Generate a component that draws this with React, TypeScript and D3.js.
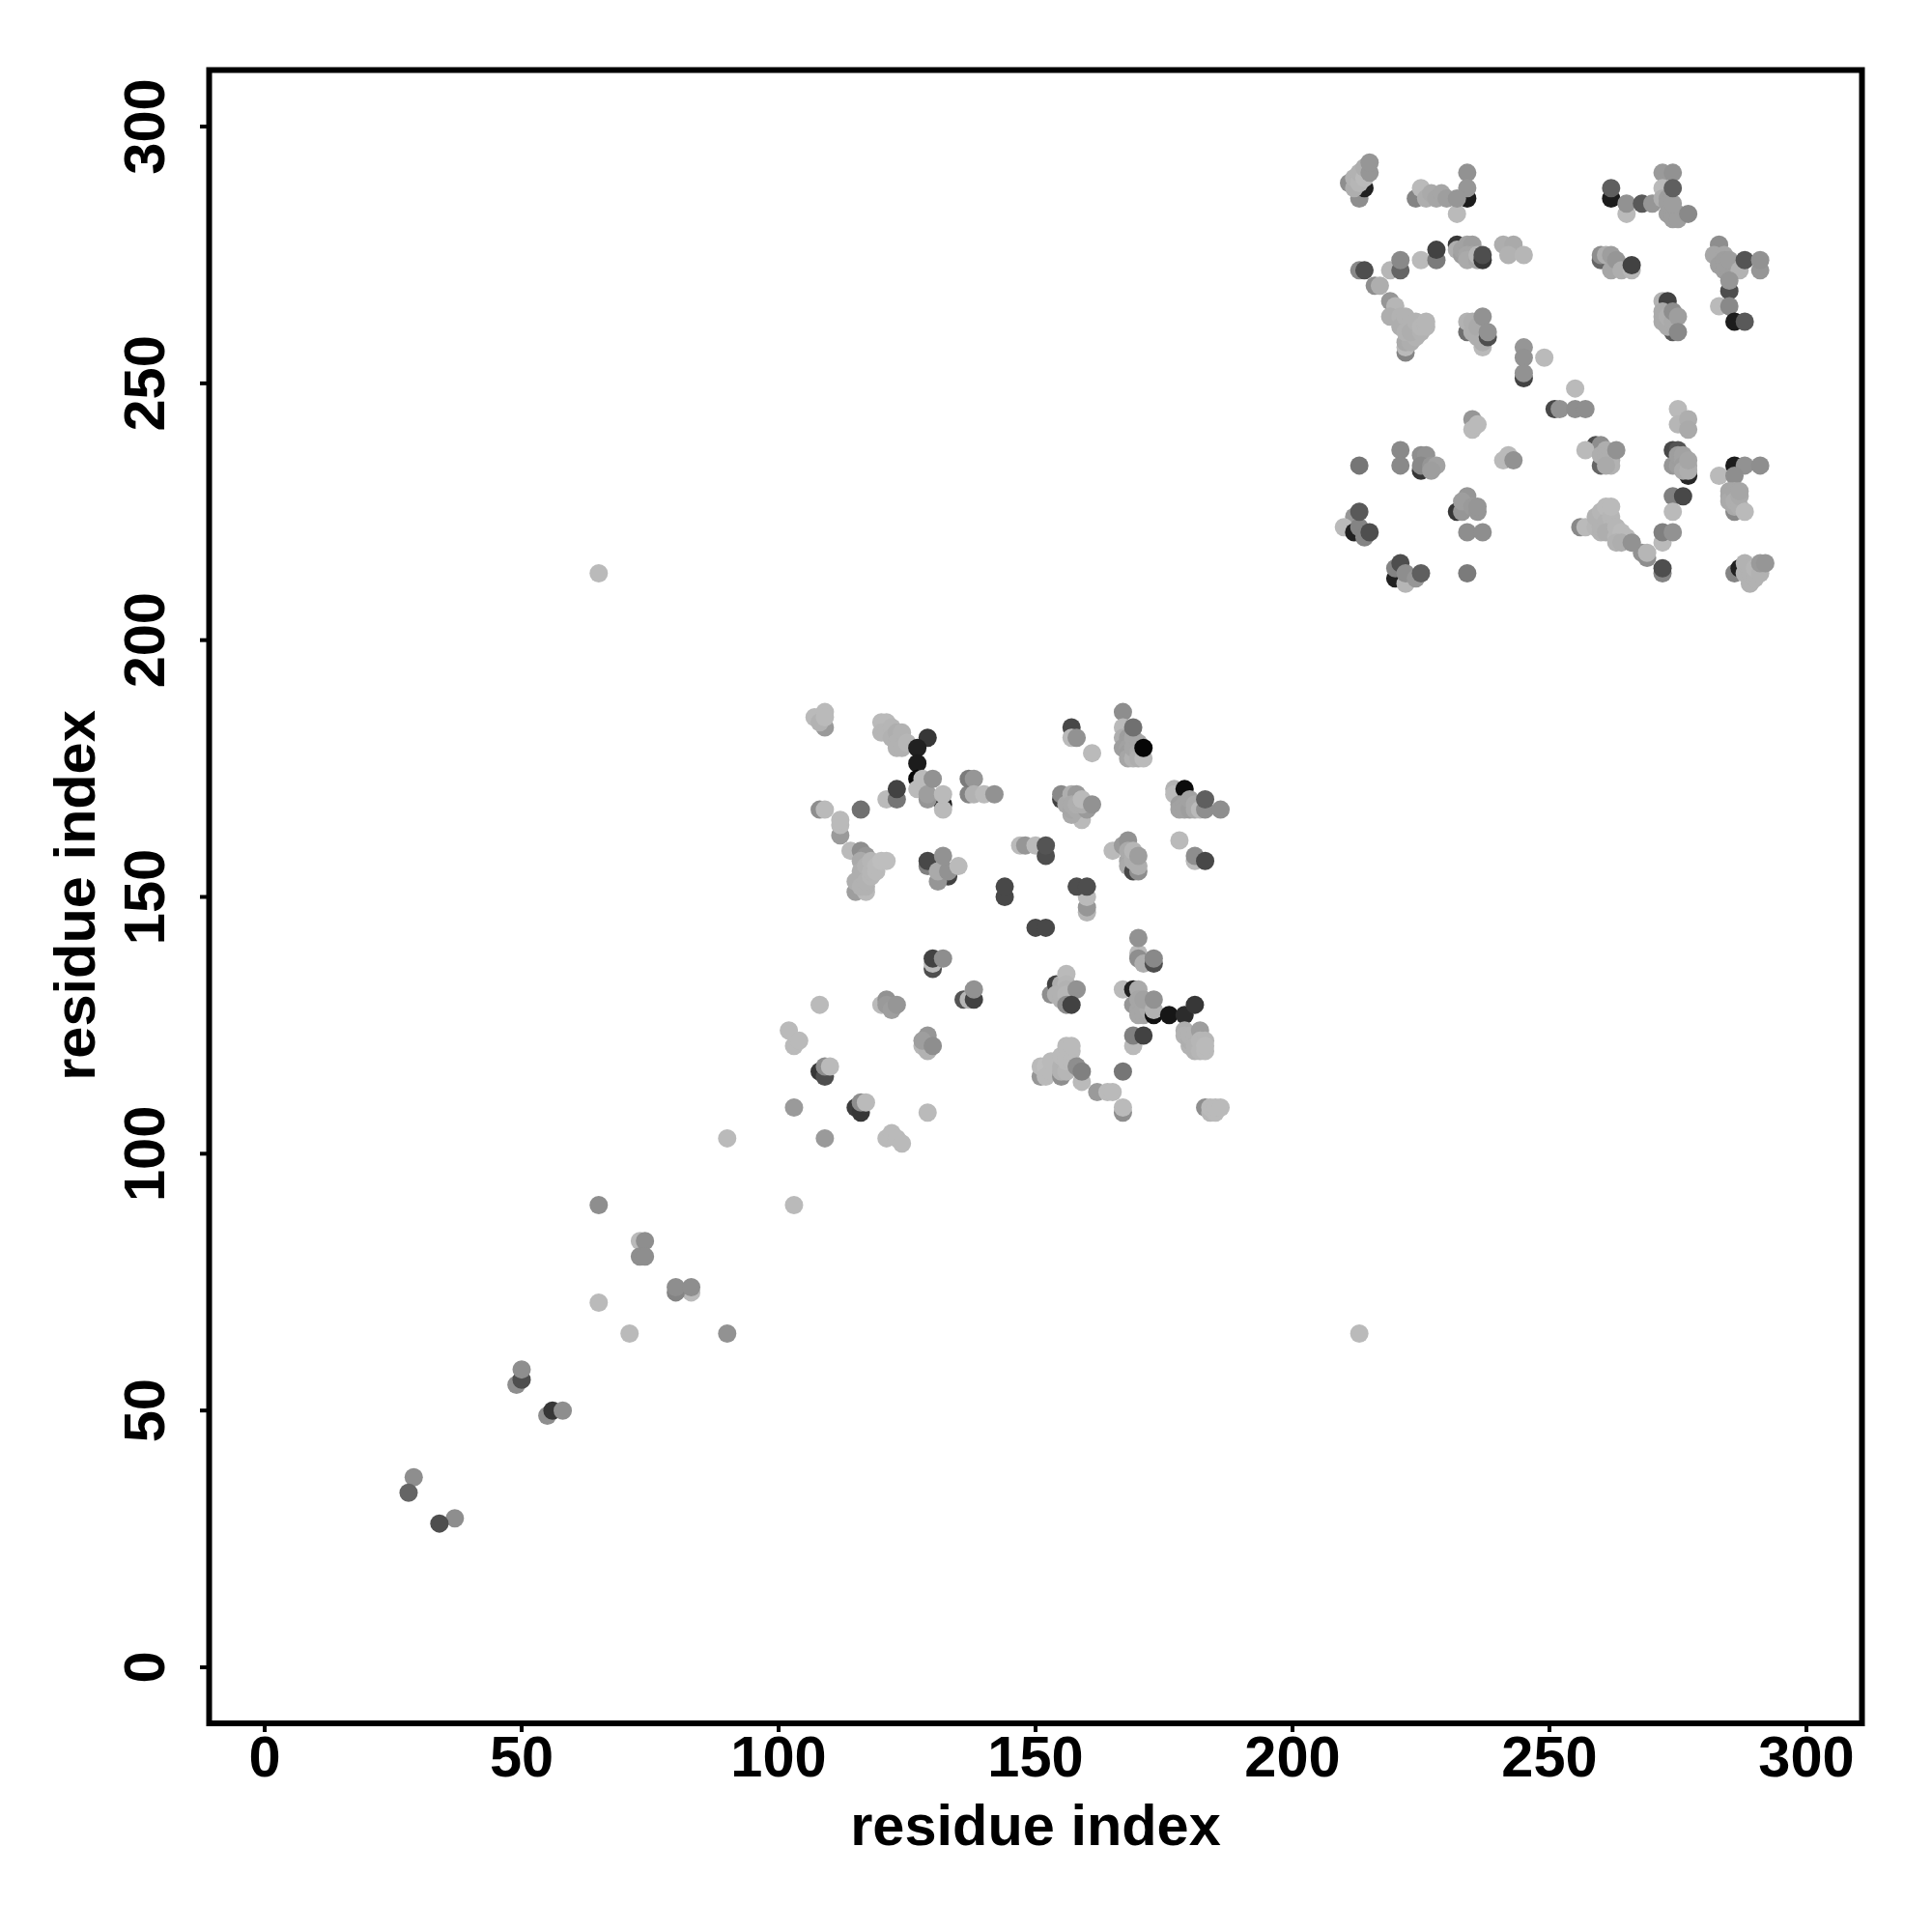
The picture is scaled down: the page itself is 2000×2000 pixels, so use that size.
import React from "react";
import * as d3 from "d3";

type P = [number, number, number];

const xTicks = [0, 50, 100, 150, 200, 250, 300];
const yTicks = [0, 50, 100, 150, 200, 250, 300];
const axisLabel = "residue index";

const topA: P[] = [[211,289,130],[213,286,130],[214,288,30],[212,288,170],[212,290,175],[213,289,180],[213,291,175],[214,290,185],[214,292,170],[215,291,140],[215,293,140]];
const topB: P[] = [[234,291,135],[234,286,25],[234,288,140],[224,286,120],[225,288,185],[226,286,170],[227,287,165],[228,286,160],[229,287,160],[230,286,150],[232,283,185],[232,286,140]];
const topC: P[] = [[262,286,25],[262,288,85],[265,283,185],[265,285,135],[268,285,80],[270,285,140],[272,291,145],[272,288,185],[272,286,170],[273,286,150],[273,285,150],[273,283,150],[274,283,150],[274,282,150],[275,283,150],[275,282,150],[274,285,150],[274,291,135],[274,288,85],[277,283,125]];
const rowA: P[] = [[213,272,125],[214,272,70],[219,272,180],[221,272,90],[221,274,125],[225,274,185],[228,274,110],[228,276,60],[232,277,50],[232,276,170],[233,275,150],[233,276,155],[234,277,155],[235,277,150],[234,275,160],[235,275,160],[234,274,165],[236,274,160],[236,275,180],[237,274,50],[237,275,70],[241,277,170],[243,277,165],[242,275,175],[245,275,180]];
const rowB: P[] = [[260,274,90],[260,275,130],[261,275,170],[262,272,160],[262,275,150],[263,274,140],[264,272,170],[266,272,180],[266,273,60]];
const rowC: P[] = [[283,277,130],[282,275,160],[284,275,160],[283,273,150],[284,274,150],[284,272,150],[285,272,150],[285,274,150],[287,272,175],[288,274,75],[291,272,140],[291,274,135],[285,268,70],[285,270,140],[283,265,185],[285,265,125],[286,262,25],[288,262,80]];
const rowD: P[] = [[272,266,175],[273,266,60],[274,260,80],[272,262,165],[272,263,165],[272,264,165],[273,261,165],[273,263,170],[274,262,165],[274,264,130],[275,263,150],[275,260,125]];
const midA: P[] = [[216,269,130],[217,269,170],[219,266,140],[220,265,180],[219,263,170],[222,256,120],[222,257,185],[222,258,165],[223,258,170],[224,259,175],[221,263,175],[221,261,170],[222,263,175],[222,260,175],[223,262,175],[223,260,170],[225,260,175],[224,262,175],[225,261,180],[226,261,180],[226,262,180]];
const midB: P[] = [[234,260,100],[234,262,175],[235,260,170],[235,262,170],[236,259,170],[236,261,165],[237,257,185],[237,258,170],[237,263,135],[238,259,70],[238,260,135]];
const diagA: P[] = [[245,257,140],[245,255,135],[249,255,185],[245,251,60],[245,252,135],[255,249,185],[251,245,65],[252,245,135],[255,245,130],[257,245,130]];
const midC: P[] = [[235,243,140],[235,241,185],[236,242,185],[275,245,185],[275,242,180],[277,243,170],[277,241,165]];
const lowA: P[] = [[213,234,105],[221,237,125],[221,234,125],[225,233,50],[225,236,130],[226,236,135],[225,234,125],[227,234,140],[228,234,155],[227,233,150]];
const lowB: P[] = [[241,235,185],[242,236,185],[243,235,135]];
const lowC: P[] = [[259,238,70],[260,238,130],[257,237,185],[260,234,90],[260,236,170],[261,237,170],[261,236,170],[261,235,170],[262,235,170],[262,236,170],[262,234,175],[261,234,165],[263,237,135]];
const lowD: P[] = [[274,237,65],[275,237,75],[274,234,140],[277,232,35],[275,234,150],[275,236,150],[276,235,155],[276,236,155],[276,234,150],[276,233,165],[277,234,165],[277,233,170],[277,235,160]];
const lowE: P[] = [[286,234,25],[288,234,135],[291,234,130],[283,232,185],[286,232,130],[286,225,125],[285,229,160],[285,228,160],[285,227,165],[286,229,160],[286,226,165],[286,227,170],[287,226,170],[287,228,165],[287,229,160],[288,225,185]];
const lowF: P[] = [[274,228,115],[276,228,65],[274,225,185],[272,219,185],[272,221,115],[274,221,135],[272,213,120],[272,214,70]];
const lowG: P[] = [[268,217,135],[269,216,130],[269,217,180],[266,219,135],[256,222,125],[257,222,185],[259,222,180],[259,224,175],[260,221,175],[260,222,175],[260,223,175],[260,225,180],[261,223,175],[261,226,185],[262,224,180],[262,222,180],[262,226,185],[261,221,170],[263,222,180],[263,220,180],[264,221,185],[265,220,185],[263,219,175],[264,219,170],[266,219,135]];
const lowH: P[] = [[212,224,140],[210,222,185],[212,221,30],[213,222,120],[214,220,120],[213,225,80],[215,221,70]];
const lowI: P[] = [[232,225,50],[233,225,140],[234,228,140],[233,227,150],[235,226,145],[236,225,140],[236,226,140],[234,221,130],[237,221,130],[234,213,110]];
const lowJ: P[] = [[220,212,30],[222,211,180],[220,214,120],[221,215,70],[222,213,130],[224,212,140],[225,213,85]];
const lowK: P[] = [[286,213,120],[287,214,30],[289,212,140],[289,211,175],[288,213,175],[288,215,175],[289,213,175],[289,214,175],[290,212,175],[290,213,175],[290,214,180],[291,213,175],[291,215,145],[292,215,140]];

const blockA: P[] = [[109,183,145],[107,185,185],[108,184,175],[109,186,185],[109,185,185],[120,184,185],[121,184,185],[120,182,180],[121,182,180],[122,183,180],[122,181,175],[123,182,170],[124,182,175],[124,181,175],[123,180,175],[123,179,175],[124,179,175],[125,180,180],[129,181,50],[127,179,30],[127,176,25],[127,173,5],[127,171,185],[128,173,185],[132,168,30],[132,167,185],[129,169,140],[129,170,150],[130,173,135],[132,170,185]];
const blockB: P[] = [[121,169,185],[123,169,105],[123,171,60],[137,170,120],[137,173,110],[138,173,140],[138,170,175],[140,170,185],[142,170,135],[108,167,130],[109,167,185],[116,167,100],[112,162,145],[112,164,185],[112,165,185]];
const blockC: P[] = [[114,159,185],[116,154,145],[115,151,150],[117,151,185],[116,159,130],[117,158,140],[116,157,165],[116,155,170],[115,153,170],[116,152,175],[117,152,175],[117,153,175],[117,156,175],[118,154,180],[118,155,180],[118,157,180],[119,155,185],[119,156,185],[120,157,190],[121,157,190]];
const blockD: P[] = [[129,156,115],[129,157,65],[133,154,60],[131,153,140],[131,155,165],[133,155,135],[132,158,135],[135,156,185]];
const blockE: P[] = [[147,160,185],[148,160,140],[150,160,185],[152,158,70],[152,160,75],[144,150,65],[144,152,65],[160,147,180],[160,148,140],[160,150,185],[158,152,70],[160,152,70],[150,144,65],[152,144,65]];
const blockF: P[] = [[157,183,65],[157,181,185],[158,181,135],[161,178,185],[155,169,60],[155,170,125],[159,165,185],[156,168,165],[157,170,170],[158,170,145],[157,166,165],[157,167,160],[157,168,165],[158,167,165],[158,168,170],[160,167,145],[159,168,170],[159,169,185],[161,168,135]];
const blockG: P[] = [[167,186,130],[167,183,185],[167,181,170],[168,181,150],[167,179,150],[168,180,150],[168,179,155],[168,178,150],[168,177,160],[169,177,175],[169,179,160],[169,181,160],[170,180,160],[170,178,165],[170,177,170],[171,177,185],[169,183,100],[171,179,5]];
const blockH: P[] = [[177,171,175],[177,170,185],[179,171,10],[178,168,150],[178,167,155],[179,168,155],[179,167,155],[180,167,150],[180,169,155],[181,168,165],[181,167,165],[182,167,185],[183,167,130],[183,169,85],[186,167,130]];
const blockI: P[] = [[165,159,185],[167,160,145],[168,161,135],[168,157,160],[168,159,165],[168,156,165],[169,155,65],[170,155,130],[169,157,170],[169,158,170],[169,159,180],[170,156,170],[170,158,150],[178,161,185],[181,157,185],[181,158,130],[183,157,65]];
const blockJ: P[] = [[170,139,185],[170,138,130],[170,142,135],[171,137,170],[173,137,70],[173,138,125]];
const blockK: P[] = [[153,131,130],[154,133,60],[155,133,170],[154,131,175],[155,130,175],[155,131,175],[156,135,185],[156,133,180],[156,132,175],[156,131,180],[158,132,135],[156,129,130],[157,129,60]];
const blockL: P[] = [[167,132,185],[169,132,30],[169,129,140],[170,132,165],[170,130,160],[170,128,160],[170,127,160],[171,127,160],[171,128,160],[172,128,165],[172,129,165],[171,130,155],[173,127,15],[173,128,175],[173,130,135],[176,127,20],[179,127,40],[181,129,50]];
const blockM: P[] = [[169,121,185],[169,123,115],[171,123,60],[179,124,170],[179,123,175],[180,121,175],[180,122,170],[180,123,175],[181,123,175],[182,124,150],[181,120,175],[181,121,175],[182,120,180],[182,122,180],[183,120,185],[183,122,180],[183,121,185]];
const blockN: P[] = [[151,115,140],[151,117,185],[152,117,190],[152,115,185],[153,116,185],[153,118,185],[155,115,130],[155,116,175],[155,117,175],[155,119,185],[156,119,185],[156,116,180],[156,118,185],[157,118,185],[157,120,185],[156,121,185],[157,121,185],[159,114,185],[158,117,130],[159,116,115],[162,112,145],[164,112,185],[165,112,185],[167,116,105],[167,108,130],[167,109,185]];
const blockO: P[] = [[183,109,130],[184,108,180],[184,109,185],[185,108,185],[185,109,185],[186,109,185]];
const blockP: P[] = [[130,136,70],[130,137,185],[130,138,60],[132,138,130],[136,130,75],[137,130,180],[138,130,60],[138,132,135]];
const blockQ: P[] = [[120,129,185],[121,130,135],[121,129,145],[122,128,150],[123,129,140],[128,121,180],[129,120,175],[129,123,140],[128,122,150],[130,121,130],[108,129,185]];
const blockR: P[] = [[102,124,185],[103,121,185],[104,122,185],[108,116,50],[109,115,70],[109,117,130],[110,117,185],[103,109,145],[115,109,55],[116,108,50],[116,110,130],[117,110,185],[129,108,185],[109,103,145],[121,103,185],[122,104,185],[123,103,185],[124,102,185]];
const lowDiag: P[] = [[90,103,185],[65,90,130],[103,90,185],[73,83,185],[74,83,130],[73,80,130],[74,80,130],[83,73,185],[80,73,120],[80,74,130],[83,74,130],[65,71,185],[71,65,185],[90,65,135],[49,55,130],[50,56,70],[50,58,130],[55,49,130],[56,50,50],[58,50,130],[29,37,130],[28,34,90],[37,29,130],[34,28,70],[213,65,185],[65,213,185]];

const groups: P[][] = [topA,topB,topC,rowA,rowB,rowC,rowD,midA,midB,diagA,midC,lowA,lowB,lowC,lowD,lowE,lowF,lowG,lowH,lowI,lowJ,lowK,blockA,blockB,blockC,blockD,blockE,blockF,blockG,blockH,blockI,blockJ,blockK,blockL,blockM,blockN,blockO,blockP,blockQ,blockR,lowDiag];

const grayShade = d3.scaleLinear().domain([0, 65, 105, 130, 150, 190]).range([0, 72, 118, 142, 158, 190]);

export default function App() {
  const x = d3.scaleLinear().domain([0, 300]).range([274, 1870]);
  const y = d3.scaleLinear().domain([0, 300]).range([1726, 131]);
  const font = "'Liberation Sans', Arial, sans-serif";
  const shade = (v: number) => { const g = Math.round(grayShade(v)); return d3.rgb(g, g, g).formatHex(); };
  return (
    <svg width={2000} height={2000} style={{ position: "absolute", left: 0, top: 0, background: "#fff" }}>
      {groups.flat().map((p, i) => (
        <circle key={i} cx={x(p[0])} cy={y(p[1])} r={9.5} fill={shade(p[2])} />
      ))}
      <rect x={216.5} y={72.5} width={1711} height={1711.5} fill="none" stroke="#000" strokeWidth={6} />
      {xTicks.map((t) => (
        <g key={t}>
          <line x1={x(t)} x2={x(t)} y1={1784} y2={1793} stroke="#000" strokeWidth={4} />
          <text x={x(t)} y={1839} textAnchor="middle" fontFamily={font} fontWeight="bold" fontSize={59.5}>{t}</text>
        </g>
      ))}
      {yTicks.map((t) => (
        <g key={t}>
          <line x1={207} x2={216} y1={y(t)} y2={y(t)} stroke="#000" strokeWidth={4} />
          <text transform={`translate(170,${y(t)}) rotate(-90)`} textAnchor="middle" fontFamily={font} fontWeight="bold" fontSize={59.5}>{t}</text>
        </g>
      ))}
      <text x={1072} y={1910} textAnchor="middle" fontFamily={font} fontWeight="bold" fontSize={59.5}>{axisLabel}</text>
      <text transform={`translate(98,927) rotate(-90)`} textAnchor="middle" fontFamily={font} fontWeight="bold" fontSize={59.5}>{axisLabel}</text>
    </svg>
  );
}
